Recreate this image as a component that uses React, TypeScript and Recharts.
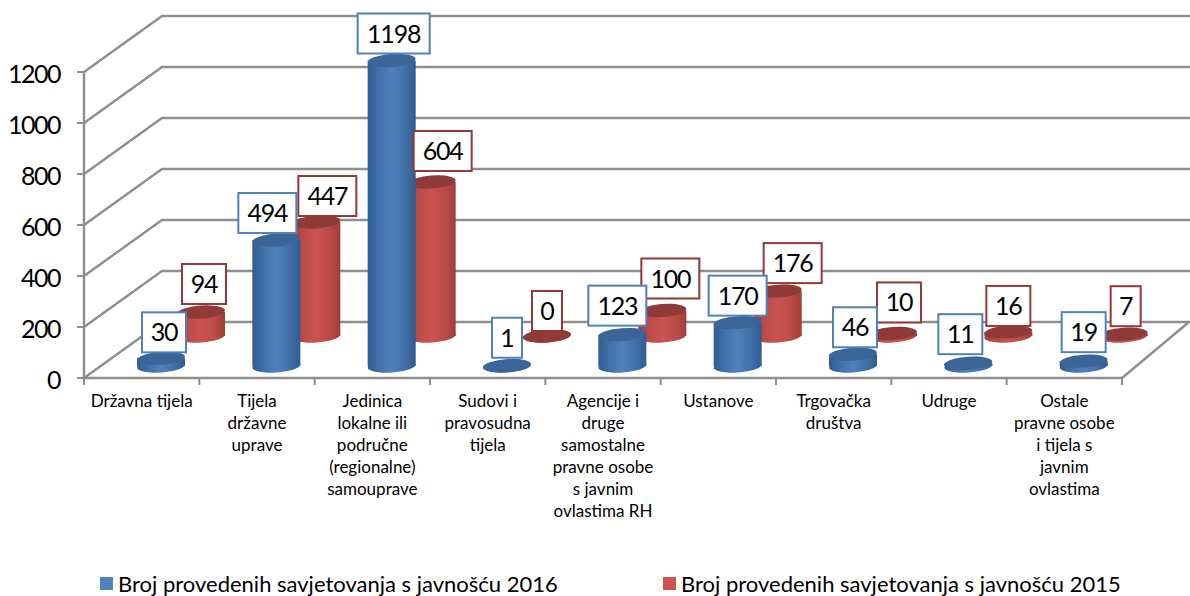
import * as React from "react"
import { BarChart, Bar, XAxis, YAxis, CartesianGrid, LabelList, Legend } from "recharts"

const categories = [
  "Državna tijela",
  "Tijela\ndržavne\nuprave",
  "Jedinica\nlokalne ili\npodručne\n(regionalne)\nsamouprave",
  "Sudovi i\npravosudna\ntijela",
  "Agencije i\ndruge\nsamostalne\npravne osobe\ns javnim\novlastima RH",
  "Ustanove",
  "Trgovačka\ndruštva",
  "Udruge",
  "Ostale\npravne osobe\ni tijela s\njavnim\novlastima",
]
const values2016 = [30, 494, 1198, 1, 123, 170, 46, 11, 19]
const values2015 = [94, 447, 604, 0, 100, 176, 10, 16, 7]
const yTicks = [0, 200, 400, 600, 800, 1000, 1200]

const name2016 = "Broj provedenih savjetovanja s javnošću 2016"
const name2015 = "Broj provedenih savjetovanja s javnošću 2015"

// hand placed data labels in the original, offset from the top of each cylinder
const labelDx2016 = [3, -9, 2, 0, -5, 0, 2, -8, 0]
const labelDy2016 = [-26, -27, -27, -28, -29, -27, -27, -29, -29]
const labelDx2015 = [3, 11, 11, 0, 8, 15, 6, 0, 2]
const labelDy2015 = [-28, -26, -31, -25, -32, -28, -31, -26, -28]

const data = categories.map((name, i) => ({
  name,
  y2016: values2016[i],
  y2015: values2015[i],
}))

const FONT = "Lato, sans-serif"
const GRID = "#8e8e8e"
const WIDTH = 1190
const HEIGHT = 596
const DEPTH_X = 78
const DEPTH_Y = 56
const BAR_W = 48

const BLUE = { id: "blue", edge: "#2e5c92", side: "#4170a8", mid: "#4f81bd", top: "#3b6596", shiftX: 19, shiftY: -12, border: "#4f81bd" }
const RED = { id: "red", edge: "#a13c39", side: "#bb4b48", mid: "#cb5350", top: "#8f3a38", shiftX: 59, shiftY: -42, border: "#953735" }

function Cylinder({ x, y, width, height, look, index }: any) {
  const cx = x + width / 2 + look.shiftX
  const top = y + look.shiftY
  const base = y + height + look.shiftY
  const gid = `cyl-${look.id}-${index}`
  return (
    <g>
      <defs>
        <linearGradient id={gid} x1="0" y1="0" x2="1" y2="0">
          <stop offset="0" stopColor={look.edge} />
          <stop offset="0.22" stopColor={look.side} />
          <stop offset="0.5" stopColor={look.mid} />
          <stop offset="0.78" stopColor={look.side} />
          <stop offset="1" stopColor={look.edge} />
        </linearGradient>
      </defs>
      <ellipse cx={cx} cy={base} rx={width / 2} ry={6.5} fill={`url(#${gid})`} transform={`rotate(-4 ${cx} ${base})`} />
      <rect x={cx - width / 2} y={top} width={width} height={base - top} fill={`url(#${gid})`} />
      <ellipse cx={cx} cy={top} rx={width / 2} ry={6.5} fill={look.top} transform={`rotate(-4 ${cx} ${top})`} />
    </g>
  )
}

function BoxLabel({ x, y, width, value, index, look, dxs, dys }: any) {
  const text = String(value)
  const w = 16 + 14 * text.length
  const h = 40
  const cx = x + width / 2 + look.shiftX + dxs[index]
  const cy = y + look.shiftY + dys[index]
  return (
    <g>
      <rect x={cx - w / 2} y={cy - h / 2} width={w} height={h} fill="#fff" stroke={look.border} strokeWidth={2} />
      <text x={cx} y={cy + 9} textAnchor="middle" fontFamily={FONT} fontSize={25} letterSpacing={-1.2} fill="#000">
        {text}
      </text>
    </g>
  )
}

// each grid line: the diagonal on the side wall plus the long line on the back wall
function WallLine({ x1, x2, y1, y2 }: any) {
  const isFloor = y1 === 378
  return (
    <g fill="none" stroke={GRID} strokeWidth={2.4}>
      <polyline points={`${x1},${y1} ${x1 + DEPTH_X},${y1 - DEPTH_Y} ${WIDTH},${y2 - DEPTH_Y}`} strokeLinejoin="round" />
      {isFloor && <line x1={x2} y1={y2} x2={WIDTH - 1} y2={y2 - DEPTH_Y} />}
    </g>
  )
}

function CategoryTick({ x, y, payload, index, step }: any) {
  const lines = String(payload.value).split("\n")
  const left = x - step / 2
  return (
    <g>
      <line x1={left} y1={y - 8} x2={left} y2={y - 1} stroke={GRID} strokeWidth={2} />
      {index === categories.length - 1 && (
        <line x1={left + step} y1={y - 8} x2={left + step} y2={y - 1} stroke={GRID} strokeWidth={2} />
      )}
      <text textAnchor="middle" fontFamily={FONT} fontSize={17} fill="#000">
        {lines.map((line, i) => (
          <tspan key={i} x={x} y={y + 21 + i * 22}>
            {line}
          </tspan>
        ))}
      </text>
    </g>
  )
}

function LegendRow() {
  const items = [
    { color: BLUE.mid, label: name2016, swatch: 100 },
    { color: RED.mid, label: name2015, swatch: 663 },
  ]
  return (
    <div style={{ position: "relative", height: 30, fontFamily: FONT, fontSize: 22, color: "#000" }}>
      {items.map((it) => (
        <React.Fragment key={it.label}>
          <div style={{ position: "absolute", left: it.swatch, top: 8, width: 13, height: 13, background: it.color }} />
          <div style={{ position: "absolute", left: it.swatch + 18, top: 0, whiteSpace: "nowrap", lineHeight: "30px" }}>
            {it.label}
          </div>
        </React.Fragment>
      ))}
    </div>
  )
}

export default function App() {
  const step = (1122 - 84) / categories.length
  return (
    <div style={{ position: "absolute", left: 0, top: 0, width: WIDTH, height: HEIGHT, overflow: "hidden", background: "#fff" }}>
      <BarChart
        width={WIDTH}
        height={HEIGHT}
        data={data}
        margin={{ top: 72, right: WIDTH - 1122, bottom: 0, left: 0 }}
        barSize={BAR_W}
        barGap={-BAR_W}
      >
        <CartesianGrid vertical={false} horizontal={(p: any) => <WallLine key={p.key} {...p} />} />
        <XAxis
          dataKey="name"
          interval={0}
          height={218}
          tickLine={false}
          axisLine={{ stroke: GRID, strokeWidth: 2.4 }}
          tick={(p: any) => <CategoryTick {...p} step={step} />}
        />
        <YAxis
          width={84}
          domain={[0, 1200]}
          ticks={yTicks}
          interval={0}
          tickSize={7}
          tickMargin={17}
          axisLine={{ stroke: GRID, strokeWidth: 2.4 }}
          tickLine={{ stroke: GRID, strokeWidth: 2 }}
          tick={(p: any) => (
            <text
              x={p.x}
              y={p.y + 11}
              textAnchor="end"
              fontFamily={FONT}
              fontSize={25}
              letterSpacing={-1.5}
              fill="#000"
            >
              {p.payload.value}
            </text>
          )}
        />
        {/* 2015 goes first so the 2016 cylinders sit in front of it */}
        <Bar dataKey="y2015" name={name2015} isAnimationActive={false} shape={(p: any) => <Cylinder {...p} look={RED} />}>
          <LabelList
            dataKey="y2015"
            content={(p: any) => <BoxLabel {...p} look={RED} dxs={labelDx2015} dys={labelDy2015} />}
          />
        </Bar>
        <Bar dataKey="y2016" name={name2016} isAnimationActive={false} shape={(p: any) => <Cylinder {...p} look={BLUE} />}>
          <LabelList
            dataKey="y2016"
            content={(p: any) => <BoxLabel {...p} look={BLUE} dxs={labelDx2016} dys={labelDy2016} />}
          />
        </Bar>
        <Legend
          layout="horizontal"
          align="center"
          verticalAlign="middle"
          wrapperStyle={{ left: 0, top: 569, width: WIDTH }}
          content={() => <LegendRow />}
        />
      </BarChart>
    </div>
  )
}
